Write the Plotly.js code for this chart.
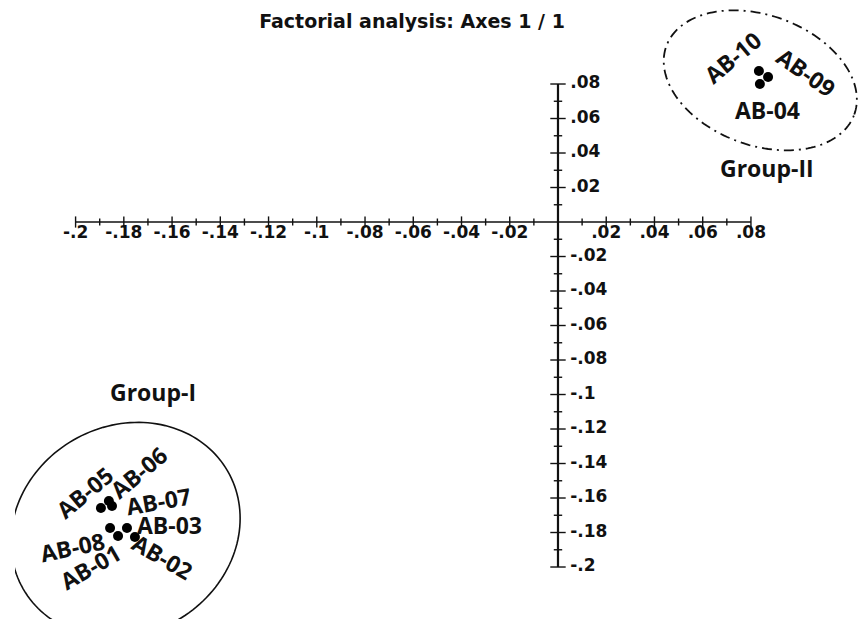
<!DOCTYPE html>
<html>
<head>
<meta charset="utf-8">
<script src="https://cdn.plot.ly/plotly-3.0.1.min.js"></script>
<style>html,body{margin:0;padding:0;background:#fff;}#chart{width:858px;height:619px;}</style>
</head>
<body>
<div id="chart"></div>
<script>
// ---- data ----
const groupILabels = ["AB-05", "AB-06", "AB-07", "AB-08", "AB-01", "AB-03", "AB-02"];
const groupIX = [-0.1895, -0.1862, -0.1849, -0.1857, -0.1824, -0.1787, -0.1754];
const groupIY = [-0.1658, -0.1617, -0.1646, -0.1774, -0.1820, -0.1774, -0.1826];

const groupIILabels = ["AB-10", "AB-09", "AB-04"];
const groupIIX = [0.0833, 0.0871, 0.0837];
const groupIIY = [0.0875, 0.0841, 0.0800];

const xMajorTicks = [-0.2, -0.18, -0.16, -0.14, -0.12, -0.1, -0.08, -0.06, -0.04, -0.02, 0.02, 0.04, 0.06, 0.08];
const xTickLabels = ["-.2", "-.18", "-.16", "-.14", "-.12", "-.1", "-.08", "-.06", "-.04", "-.02", ".02", ".04", ".06", ".08"];
const xMinorTicks = [-0.19, -0.17, -0.15, -0.13, -0.11, -0.09, -0.07, -0.05, -0.03, -0.01, 0.01, 0.03, 0.05, 0.07];

const yMajorTicks = [0.08, 0.06, 0.04, 0.02, -0.02, -0.04, -0.06, -0.08, -0.1, -0.12, -0.14, -0.16, -0.18, -0.2];
const yTickLabels = [".08", ".06", ".04", ".02", "-.02", "-.04", "-.06", "-.08", "-.1", "-.12", "-.14", "-.16", "-.18", "-.2"];
const yMinorTicks = [0.07, 0.05, 0.03, 0.01, -0.01, -0.03, -0.05, -0.07, -0.09, -0.11, -0.13, -0.15, -0.17, -0.19];

const axisRange = [-0.2, 0.08];

// ---- styling / layout helpers ----
const ink = "#111111";
const tickFont = {family: "DejaVu Sans", size: 17, color: ink, weight: "bold"};
const labelFont = {family: "Open Sans", size: 23, color: ink, weight: "bold"};

// label offsets (pixels) and angles, per point
const groupIShift = [[-16, 16, -40], [30, 29, -40], [46, 5, -10], [-38, -19, -12], [-28, -31, -30], [43, 3, 0], [28, -20, 30]];
const groupIIShift = [[-26, 14, -40], [38, 5, 35], [8, -26, 0]];

function mean(a) { return a.reduce((s, v) => s + v, 0) / a.length; }
function zeros(n) { return new Array(n).fill(0); }

function ellipsePath(cx, cy, a, b, deg, n) {
  const th = deg * Math.PI / 180;
  let s = "";
  for (let i = 0; i <= n; i++) {
    const t = 2 * Math.PI * i / n;
    const px = cx + a * Math.cos(t) * Math.cos(th) - b * Math.sin(t) * Math.sin(th);
    const py = cy + a * Math.cos(t) * Math.sin(th) + b * Math.sin(t) * Math.cos(th);
    s += (i === 0 ? "M" : "L") + px.toFixed(2) + "," + py.toFixed(2);
  }
  return s + "Z";
}

const traces = [
  // x axis line
  {x: axisRange, y: [0, 0], mode: "lines", line: {color: ink, width: 1.6}, hoverinfo: "skip"},
  // y axis line
  {x: [0, 0], y: axisRange, mode: "lines", line: {color: ink, width: 2.2}, hoverinfo: "skip"},
  // x ticks
  {x: xMajorTicks, y: zeros(xMajorTicks.length), mode: "markers",
   marker: {symbol: "line-ns", size: 8, line: {width: 1.4, color: ink}}, hoverinfo: "skip"},
  {x: xMinorTicks, y: zeros(xMinorTicks.length), mode: "markers",
   marker: {symbol: "line-ns", size: 5, line: {width: 1.4, color: ink}}, hoverinfo: "skip"},
  // y ticks
  {x: zeros(yMajorTicks.length), y: yMajorTicks, mode: "markers",
   marker: {symbol: "line-ew", size: 11, line: {width: 1.4, color: ink}}, hoverinfo: "skip"},
  {x: zeros(yMinorTicks.length), y: yMinorTicks, mode: "markers",
   marker: {symbol: "line-ew", size: 6, line: {width: 1.4, color: ink}}, hoverinfo: "skip"},
  // tick labels (transparent markers set the text offset)
  {x: xMajorTicks, y: zeros(xMajorTicks.length), mode: "markers+text", text: xTickLabels,
   marker: {size: 3, color: "rgba(0,0,0,0)"},
   textposition: "bottom center", textfont: tickFont, hoverinfo: "skip"},
  {x: zeros(yMajorTicks.length), y: yMajorTicks, mode: "markers+text", text: yTickLabels,
   marker: {size: 18, color: "rgba(0,0,0,0)"},
   textposition: "middle right", textfont: tickFont, hoverinfo: "skip"},
  // points
  {x: groupIX, y: groupIY, mode: "markers", text: groupILabels,
   marker: {color: "#000", size: 10}},
  {x: groupIIX, y: groupIIY, mode: "markers", text: groupIILabels,
   marker: {color: "#000", size: 10}}
];

const annotations = [];
groupILabels.forEach((lab, i) => {
  annotations.push({x: groupIX[i], y: groupIY[i], xref: "x", yref: "y", text: lab, showarrow: false,
    xshift: groupIShift[i][0], yshift: groupIShift[i][1], textangle: groupIShift[i][2], font: labelFont});
});
groupIILabels.forEach((lab, i) => {
  annotations.push({x: groupIIX[i], y: groupIIY[i], xref: "x", yref: "y", text: lab, showarrow: false,
    xshift: groupIIShift[i][0], yshift: groupIIShift[i][1], textangle: groupIIShift[i][2], font: labelFont});
});

const g1x = mean(groupIX), g1y = mean(groupIY);
const g2x = mean(groupIIX), g2y = mean(groupIIY);

annotations.push({x: g1x, y: g1y, xref: "x", yref: "y", text: "Group-I", showarrow: false,
  xshift: 37, yshift: 129, font: labelFont});
annotations.push({x: g2x, y: g2y, xref: "x", yref: "y", text: "Group-II", showarrow: false,
  xshift: 5, yshift: -91, font: labelFont});

const shapes = [
  {type: "path", xref: "x", yref: "y", xsizemode: "pixel", ysizemode: "pixel",
   xanchor: g1x, yanchor: g1y, path: ellipsePath(9.5, -9.5, 118, 104, 30, 160),
   line: {color: ink, width: 1.6}},
  {type: "path", xref: "x", yref: "y", xsizemode: "pixel", ysizemode: "pixel",
   xanchor: g2x, yanchor: g2y, path: ellipsePath(-2, -3, 100, 65, -20, 160),
   line: {color: ink, width: 1.8, dash: "10px,5px,2px,5px"}}
];

const layout = {
  width: 858, height: 619,
  margin: {l: 15, r: 0, t: 0, b: 0},
  paper_bgcolor: "#ffffff", plot_bgcolor: "#ffffff",
  showlegend: false,
  title: {text: "Factorial analysis: Axes 1 / 1", x: 412 / 858, xref: "container", xanchor: "center",
          y: 1 - 21 / 619, yref: "container", yanchor: "middle",
          font: {family: "DejaVu Sans", size: 19, color: ink, weight: "bold"}},
  xaxis: {range: [-0.22512, 0.12438], visible: false, fixedrange: true},
  yaxis: {range: [-0.23014, 0.12870], visible: false, fixedrange: true},
  annotations: annotations,
  shapes: shapes
};

Plotly.newPlot("chart", traces, layout, {displayModeBar: false, staticPlot: true});
</script>
</body>
</html>
